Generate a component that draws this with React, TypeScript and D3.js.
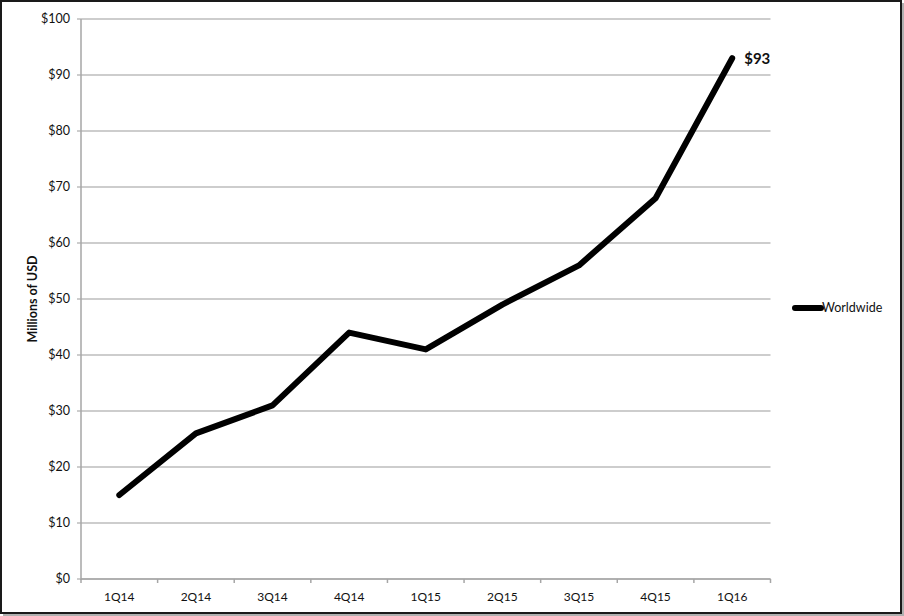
import * as d3 from "d3";
import React from "react";

// quarterly values, millions of USD
const quarters = ["1Q14", "2Q14", "3Q14", "4Q14", "1Q15", "2Q15", "3Q15", "4Q15", "1Q16"];
const worldwide = [15, 26, 31, 44, 41, 49, 56, 68, 93];
const yTicks = [0, 10, 20, 30, 40, 50, 60, 70, 80, 90, 100];
const seriesName = "Worldwide";
const yTitle = "Millions of USD";

const W = 904;
const H = 616;
const font = "Lato, Carlito, 'Open Sans', sans-serif";

const App = (): React.ReactElement => {
  const margin = { top: 19, left: 81, right: 770.5, bottom: 579 };

  const xScale = d3.scaleBand<string>().domain(quarters).range([margin.left, margin.right]).padding(0);
  const yScale = d3.scaleLinear().domain([0, 100]).range([margin.bottom, margin.top]);

  const xMid = (q: string) => (xScale(q) as number) + xScale.bandwidth() / 2;

  const line = d3
    .line<number>()
    .x((_, i) => xMid(quarters[i]))
    .y((d) => yScale(d));

  const boundaries = quarters.map((q) => xScale(q) as number).concat([margin.right]);
  const last = worldwide.length - 1;

  return (
    <svg
      width={W}
      height={H}
      style={{ position: "absolute", left: 0, top: 0, background: "#fff" }}
      fontFamily={font}
    >
      {/* outer frame with shadow */}
      <rect x={0} y={0} width={W} height={H} fill="#fff" />
      <rect x={W - 3} y={3} width={3} height={H - 3} fill="#b0b0b0" />
      <rect x={3} y={H - 3} width={W - 3} height={3} fill="#b0b0b0" />
      <rect x={1} y={1} width={W - 4} height={H - 4} fill="none" stroke="#1a1a1a" strokeWidth={2} />

      {/* gridlines */}
      {yTicks.map((t) => (
        <line key={"g" + t} x1={margin.left - 4} x2={margin.right} y1={yScale(t)} y2={yScale(t)} stroke="#bdbdbd" strokeWidth={1.5} />
      ))}

      {/* y axis */}
      <line x1={margin.left} x2={margin.left} y1={margin.top} y2={margin.bottom + 1} stroke="#a6a6a6" strokeWidth={1.5} />
      {yTicks.map((t) => (
        <text key={"y" + t} x={70} y={yScale(t)} dy="0.35em" textAnchor="end" fontSize={12.5} fill="#111">
          ${t}
        </text>
      ))}
      <text
        transform={`translate(37, ${(margin.top + margin.bottom) / 2}) rotate(-90)`}
        textAnchor="middle"
        fontSize={12.5}
        fontWeight="bold"
        fill="#111"
      >
        {yTitle}
      </text>

      {/* x axis */}
      <line x1={margin.left} x2={margin.right} y1={margin.bottom} y2={margin.bottom} stroke="#a6a6a6" strokeWidth={1.5} />
      {boundaries.map((b, i) => (
        <line key={"xt" + i} x1={b} x2={b} y1={margin.bottom} y2={margin.bottom + 4} stroke="#a6a6a6" strokeWidth={1.5} />
      ))}
      {quarters.map((q) => (
        <text key={q} x={xMid(q)} y={601} textAnchor="middle" fontSize={12} fill="#111">
          {q}
        </text>
      ))}

      {/* series */}
      <path
        d={line(worldwide) as string}
        fill="none"
        stroke="#000"
        strokeWidth={6}
        strokeLinecap="round"
        strokeLinejoin="round"
      />
      <text x={xMid(quarters[last]) + 12} y={yScale(worldwide[last]) + 6} fontSize={15} fontWeight="bold" fill="#111">
        ${worldwide[last]}
      </text>

      {/* legend */}
      <line x1={795} x2={821} y1={308} y2={308} stroke="#000" strokeWidth={6} strokeLinecap="round" />
      <text x={822} y={308} dy="0.35em" fontSize={12.5} fill="#111">
        {seriesName}
      </text>
    </svg>
  );
};

export default App;
